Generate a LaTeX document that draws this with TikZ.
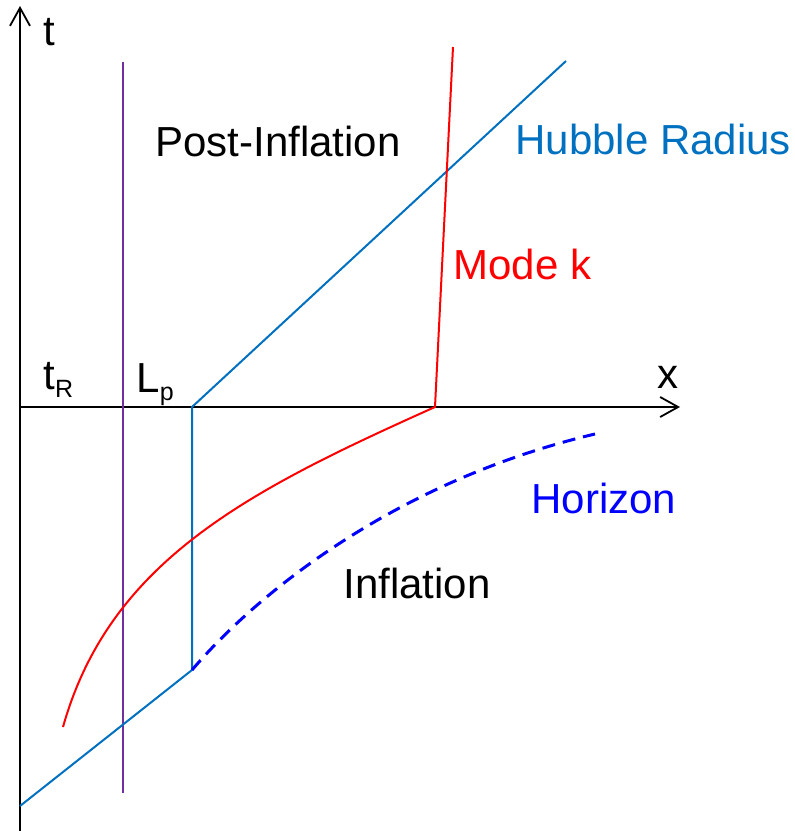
\documentclass[tikz,border=0pt]{standalone}
\usepackage{fontspec}
\setmainfont{Liberation Sans}
\usetikzlibrary{arrows.meta}
\definecolor{hubble}{HTML}{0070C0}
\definecolor{lpurple}{HTML}{7030A0}
\definecolor{horizon}{HTML}{0000FF}
\definecolor{modered}{HTML}{FF0000}
\tikzset{
  axis/.style={line width=1pt, black, -{Straight Barb[length=9pt,width=10pt,line width=0.9pt]}},
  curve/.style={line width=1pt},
  lbl/.style={anchor=base west, inner sep=0pt, font=\fontsize{21}{24}\selectfont},
}
\begin{document}
\begin{tikzpicture}[x=0.5pt,y=-0.5pt]
\useasboundingbox (0,0) rectangle (794,831);
% coordinates
\coordinate (tbot) at (20,831);
\coordinate (ttop) at (20,6);
\coordinate (xl) at (20,407);
\coordinate (xr) at (680,407);
\coordinate (ptop) at (123,62);
\coordinate (pbot) at (123,793);
\coordinate (hA) at (20,806);
\coordinate (hB) at (192,670);
\coordinate (hC) at (192,407);
\coordinate (hD) at (566,61);
\coordinate (mtop) at (453,47);
\coordinate (mk) at (435,407);
\coordinate (mend) at (63,727);
\coordinate (hzend) at (595,434);
% axes
\draw[axis] (tbot) -- (ttop);
\draw[axis] (xl) -- (xr);
% purple line
\draw[curve, lpurple] (ptop) -- (pbot);
% Hubble radius
\draw[curve, hubble] (hA) -- (hB) -- (hC) -- (hD);
% mode k
\draw[curve, modered] (mtop) -- (mk) .. controls (250,490) and (110,560) .. (mend);
% horizon (dashed)
\draw[line width=1.5pt, horizon, dash pattern=on 6.5pt off 4pt] (hB) .. controls (260,590) and (400,480) .. (hzend);
% labels
\node[lbl] (tl) at (43,45) {t};
\node[lbl] (xlab) at (657,388) {x};
\node[lbl] (tR) at (43,389) {t\raisebox{-4pt}{\fontsize{12.5}{14}\selectfont R}};
\node[lbl] (Lp) at (136,392) {L\raisebox{-4pt}{\fontsize{12.5}{14}\selectfont p}};
\node[lbl] (post) at (155,156) {Post-Inflation};
\node[lbl, text=hubble] (hub) at (515,154) {Hubble Radius};
\node[lbl, text=modered] (mode) at (453,279) {Mode k};
\node[lbl, text=horizon] (hor) at (531,513) {Horizon};
\node[lbl] (inf) at (343,598) {Inflation};
\end{tikzpicture}
\end{document}
